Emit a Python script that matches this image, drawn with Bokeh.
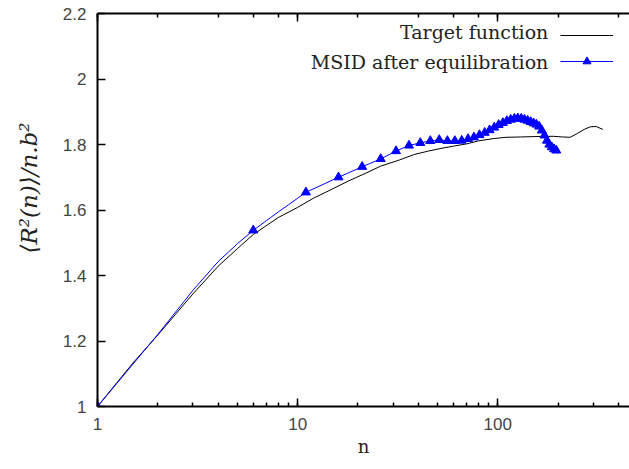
from bokeh.plotting import figure
from bokeh.models import (Range1d, LogAxis, Legend, LegendItem, Label,
                          FixedTicker, CustomJSTickFormatter)
from bokeh.embed import file_html
from bokeh.resources import INLINE

# Target function <R^2(n)>/n.b^2
target_n = [1, 1.5, 2, 3, 4, 5, 6, 8, 10, 12, 15, 18, 22, 26, 32, 38, 45, 52,
            60, 70, 80, 95, 110, 130, 150, 170, 190, 210, 230, 250, 270, 290,
            310, 335]
target_r = [1.0, 1.132, 1.218, 1.344, 1.428, 1.482, 1.525, 1.577, 1.608,
            1.636, 1.665, 1.689, 1.713, 1.734, 1.752, 1.769, 1.780, 1.788,
            1.795, 1.802, 1.811, 1.818, 1.822, 1.823, 1.824, 1.825, 1.825,
            1.823, 1.822, 1.834, 1.846, 1.854, 1.855, 1.846]

# MSID after equilibration: line (all n) and markers (every 5th n)
msid_line_n = [1, 2, 3, 4, 5, 6, 7, 8, 9, 10, 11, 16, 21, 26, 31, 36, 41, 46,
               51, 56, 61, 66, 71, 76, 81, 86, 91, 96, 101, 106, 111, 116,
               121, 126, 131, 136, 141, 146, 151, 156, 161, 166, 171, 176,
               181, 186, 191, 196, 199]
msid_line_r = [1.0, 1.220, 1.355, 1.442, 1.497, 1.538, 1.568, 1.594, 1.616,
               1.636, 1.654, 1.700, 1.732, 1.756, 1.780, 1.797, 1.805, 1.811,
               1.814, 1.811, 1.811, 1.812, 1.817, 1.822, 1.829, 1.836, 1.844,
               1.852, 1.860, 1.866, 1.872, 1.876, 1.879, 1.880, 1.879, 1.876,
               1.873, 1.869, 1.865, 1.861, 1.855, 1.843, 1.828, 1.812, 1.800,
               1.792, 1.786, 1.779, 1.772]
msid_n = [1, 6, 11, 16, 21, 26, 31, 36, 41, 46, 51, 56, 61, 66, 71, 76, 81,
          86, 91, 96, 101, 106, 111, 116, 121, 126, 131, 136, 141, 146, 151,
          156, 161, 166, 171, 176, 181, 186, 191, 196]
msid_r = [1.0, 1.538, 1.654, 1.700, 1.732, 1.756, 1.780, 1.797, 1.805, 1.811,
          1.814, 1.811, 1.811, 1.812, 1.817, 1.822, 1.829, 1.836, 1.844, 1.852,
          1.860, 1.866, 1.872, 1.876, 1.879, 1.880, 1.879, 1.876, 1.873, 1.869,
          1.865, 1.861, 1.855, 1.843, 1.828, 1.812, 1.800, 1.792, 1.786, 1.782]

y_ticks = [1.0, 1.2, 1.4, 1.6, 1.8, 2.0, 2.2]

TICK_FONT = "Liberation Sans"
SERIF = "DejaVu Serif"

p = figure(width=629, height=469, x_axis_type="log",
           x_range=Range1d(1, 455), y_range=Range1d(1, 2.2),
           output_backend="svg", toolbar_location=None,
           min_border_left=97, min_border_right=0, min_border_top=13,
           min_border_bottom=63, background_fill_color="white",
           border_fill_color="white")
p.outline_line_color = None
p.xgrid.visible = False
p.ygrid.visible = False

black = p.line(target_n, target_r, line_color="black", line_width=1)
blue_line = p.line(msid_line_n, msid_line_r, line_color="#0000ff", line_width=1)
blue_pts = p.scatter(msid_n, msid_r, marker="triangle", size=9,
                     fill_color="#0000ff", line_color="#0000ff")

# bottom axis
xa = p.xaxis[0]
xa.formatter = CustomJSTickFormatter(code="return Math.round(tick).toString();")
xa.axis_label = "n"
xa.axis_label_text_font = SERIF
xa.axis_label_text_font_size = "18px"
xa.axis_label_text_font_style = "normal"
xa.axis_label_text_color = "#222222"
xa.axis_label_standoff = 3
xa.major_label_text_font = TICK_FONT
xa.major_label_text_font_size = "17px"
xa.major_label_standoff = 11
xa.major_tick_in = 8
xa.major_tick_out = 0
xa.minor_tick_in = 4
xa.minor_tick_out = 0
xa.axis_line_width = 2
xa.major_tick_line_width = 1.5
xa.minor_tick_line_width = 1.5

# left axis
ya = p.yaxis[0]
ya.ticker = FixedTicker(ticks=y_ticks)
ya.formatter = CustomJSTickFormatter(
    code="return tick.toFixed(1).replace(/\\.0$/, '');")
ya.axis_label = "\u00a0" * 6 + "\u27e8R\u00b2(n)\u27e9/n.b\u00b2"
ya.axis_label_text_font = SERIF
ya.axis_label_text_font_size = "23px"
ya.axis_label_text_font_style = "italic"
ya.axis_label_text_color = "#222222"
ya.axis_label_standoff = 18
ya.major_label_text_font = TICK_FONT
ya.major_label_text_font_size = "17px"
ya.major_label_standoff = 11
ya.major_tick_in = 8
ya.major_tick_out = 0
ya.minor_tick_line_color = None
ya.axis_line_width = 2
ya.major_tick_line_width = 1.5

# mirrored top axis (ticks only)
top = LogAxis(major_label_text_font_size="1px", major_label_text_color=None,
              major_label_standoff=0,
              major_tick_in=8, major_tick_out=0, minor_tick_in=4,
              minor_tick_out=0, axis_line_width=2, major_tick_line_width=1.5,
              minor_tick_line_width=1.5)
p.add_layout(top, "above")

legend = Legend(items=[LegendItem(label="\u00a0", renderers=[black]),
                       LegendItem(label="\u00a0", renderers=[blue_line, blue_pts])],
                location="top_right", border_line_color=None,
                background_fill_alpha=0, padding=0, margin=12, spacing=6,
                glyph_width=53, glyph_height=20, label_height=20,
                label_width=4, label_standoff=0, label_text_font_size="4px")
p.add_layout(legend)

p.add_layout(Label(x=178.8, y=2.142, text="Target function", text_align="right",
                   text_baseline="middle", text_font=SERIF,
                   text_font_size="19px", text_color="#222222"))
p.add_layout(Label(x=178.8, y=2.053, text="MSID after equilibration",
                   text_align="right", text_baseline="middle",
                   text_font=SERIF, text_font_size="19px",
                   text_color="#222222"))

open("out.html", "w").write(file_html(p, INLINE))
